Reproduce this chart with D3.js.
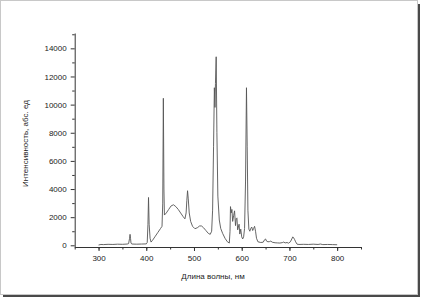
<!DOCTYPE html>
<html>
<head>
<meta charset="utf-8">
<script src="https://cdn.jsdelivr.net/npm/d3@7"></script>
<style>
  body { margin: 0; background: #fff; }
  text { font-family: "Liberation Sans", Arial, sans-serif; fill: #222; }
</style>
</head>
<body>
<div id="chart"></div>
<script>
var width = 423,
    height = 300;

// spectrum
var wavelength = [300, 305, 310, 320, 330, 340, 350, 360, 363, 365, 366, 367, 368, 370, 380, 390, 400,
  402, 403.5, 404.7, 406, 408, 410, 413, 418, 424, 430, 433, 434.5, 435.8, 437, 438, 442, 447, 452,
  457, 462, 467, 472, 477, 481, 483.5, 485, 486.5, 488, 490, 493, 497, 502, 507, 512, 516, 520, 525,
  530, 534, 537, 539, 541, 542.7, 544, 545, 546.5, 548, 550, 553, 556, 560, 565, 570, 574, 575.5,
  576.5, 578, 579.5, 581, 583, 585, 587, 588.5, 590, 591.5, 593, 594.5, 596, 598, 600, 602, 604, 606,
  608, 610, 611.5, 613, 615, 617, 619, 621, 623, 625, 627, 629, 631, 634, 640, 645, 648, 650, 652,
  655, 658, 661, 664, 670, 675, 680, 685, 688, 691, 695, 698, 702, 705, 707, 709, 711, 713, 716, 720,
  730, 740, 750, 760, 765, 770, 780, 790, 800];
var intensity = [20, 60, 50, 70, 60, 80, 70, 90, 120, 500, 780, 500, 150, 90, 80, 90, 100,
  200, 1500, 3400, 1500, 500, 230, 350, 600, 900, 1200, 1350, 3000, 10450, 4000, 2150, 2300, 2550, 2800,
  2880, 2750, 2550, 2300, 2050, 1880, 2300, 3200, 3880, 3300, 2300, 1700, 1350, 1180, 1250, 1380, 1370, 1250, 1050,
  850, 780, 1000, 2500, 7000, 11200, 9800, 11500, 13400, 8000, 3500, 1800, 1200, 850, 500, 250, 160, 1000,
  2750, 2300, 2550, 1700, 2100, 2450, 1400, 1900, 1950, 1100, 1300, 1500, 800, 1150, 600, 450, 600, 1200,
  4500, 11200, 7000, 2500, 1150, 1000, 1200, 1300, 1050, 1200, 1350, 1000, 500, 250, 200, 220, 400, 450, 300,
  250, 260, 300, 220, 180, 170, 160, 190, 230, 170, 200, 150, 250, 450, 600, 520, 400, 250, 80, 60,
  70, 60, 80, 60, 90, 50, 60, 50, 40];

var xTicks = [300, 400, 500, 600, 700, 800];
var yTicks = [0, 2000, 4000, 6000, 8000, 10000, 12000, 14000];

var svg = d3.select("#chart").append("svg")
    .attr("width", width)
    .attr("height", height);

// paper with shadow
svg.append("rect")
    .attr("x", 3).attr("y", 4)
    .attr("width", 417).attr("height", 293)
    .attr("fill", "#4a4a4a");
svg.append("rect")
    .attr("x", 0.5).attr("y", 0.5)
    .attr("width", 417).attr("height", 294)
    .attr("fill", "#fff")
    .attr("stroke", "#c8c8c8");

var x = d3.scaleLinear().domain([250, 850]).range([74.7, 361]);
var y = d3.scaleLinear().domain([-120, 15090]).range([247, 33]);

var xAxis = svg.append("g")
    .attr("transform", "translate(0,247)")
    .call(d3.axisBottom(x).tickValues(xTicks).tickSize(4).tickSizeOuter(0).tickFormat(d3.format("d")));
svg.append("g")
    .attr("transform", "translate(0,247)")
    .call(d3.axisBottom(x).tickValues(d3.range(250, 851, 50)).tickSize(2.5).tickFormat(""))
    .select(".domain").remove();

var yAxis = svg.append("g")
    .attr("transform", "translate(74.7,0)")
    .call(d3.axisLeft(y).tickValues(yTicks).tickSize(4).tickSizeOuter(0).tickFormat(d3.format("d")));
svg.append("g")
    .attr("transform", "translate(74.7,0)")
    .call(d3.axisLeft(y).tickValues(d3.range(1000, 15001, 2000)).tickSize(2.5).tickFormat(""))
    .select(".domain").remove();

svg.selectAll(".domain, .tick line").attr("stroke", "#333");
xAxis.selectAll(".tick text").attr("font-size", 8).attr("dy", "0.9em");
yAxis.selectAll(".tick text").attr("font-size", 8).attr("dx", "-1px");

var data = wavelength.map(function(w, i) { return [w, intensity[i]]; });

var line = d3.line()
    .x(function(d) { return x(d[0]); })
    .y(function(d) { return y(d[1]); });

svg.append("path")
    .datum(data)
    .attr("d", line)
    .attr("fill", "none")
    .attr("stroke", "#555")
    .attr("stroke-width", 0.9)
    .attr("stroke-linejoin", "round");

svg.append("text")
    .attr("x", 213).attr("y", 279)
    .attr("text-anchor", "middle")
    .attr("font-size", 8)
    .text("Длина волны, нм");

svg.append("text")
    .attr("transform", "translate(28,143.5) rotate(-90)")
    .attr("text-anchor", "middle")
    .attr("font-size", 8)
    .text("Интенсивность, абс. ед");
</script>
</body>
</html>
